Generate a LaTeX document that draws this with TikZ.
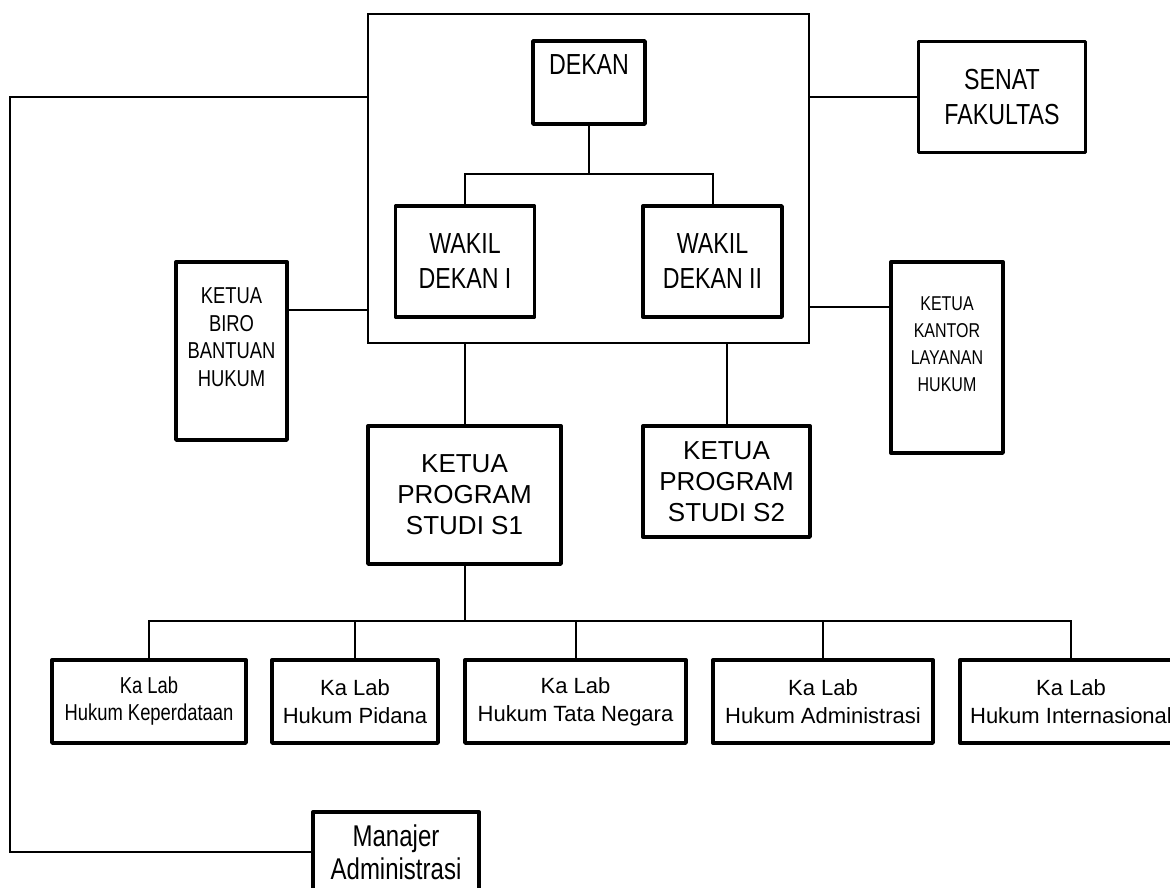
\documentclass[tikz,border=0pt]{standalone}
\usepackage{fontspec}
\setmainfont{Liberation Sans}
\newfontfamily\sempit[FakeStretch=0.8]{Liberation Sans}
\usetikzlibrary{positioning}

\begin{document}
\begin{tikzpicture}[x=1pt,y=-1pt,
  kotak/.style={draw,line width=3.4pt,line join=round,align=center,inner sep=0pt},
  garis/.style={line width=2pt},
  judul/.style={font={\sempit\fontsize{29}{35}\selectfont}},
  lab/.style={kotak,minimum height=83,font={\fontsize{22}{28}\selectfont}}]
  \useasboundingbox (0,0) rectangle (1170,887);
  \clip (0,0) rectangle (1170,887);

  % pimpinan fakultas
  \node[draw,line width=2pt,minimum width=441,minimum height=329] (pimpinan) at (588.5,178.5) {};
  \node[kotak,judul,minimum width=112,minimum height=83] (dekan) at (589,82.5) {DEKAN\\\mbox{}};
  \node[kotak,judul,minimum width=139,minimum height=111] (wakil1) at (465,261.5) {WAKIL\\DEKAN I};
  \node[kotak,judul,minimum width=139,minimum height=111] (wakil2) at (712.5,261.5) {WAKIL\\DEKAN II};

  \node[kotak,judul,minimum width=167,minimum height=111] (senat) at (1002,97) {SENAT\\FAKULTAS};
  \node[kotak,font={\sempit\fontsize{23}{27.5}\selectfont},minimum width=111,minimum height=178] (biro) at (231.5,351) {KETUA\\BIRO\\BANTUAN\\HUKUM\\\mbox{}};
  \node[kotak,font={\sempit\fontsize{20}{27}\selectfont},minimum width=112,minimum height=191] (kantor) at (947,357.5) {KETUA\\KANTOR\\LAYANAN\\HUKUM\\\mbox{}};

  % program studi
  \node[kotak,font={\fontsize{26}{31}\selectfont},minimum width=193,minimum height=138] (s1) at (464.5,495) {KETUA\\PROGRAM\\STUDI S1};
  \node[kotak,font={\fontsize{26}{31}\selectfont},minimum width=167,minimum height=111] (s2) at (726.5,481.5) {KETUA\\PROGRAM\\STUDI S2};

  % laboratorium
  \node[lab,minimum width=194,font={\sempit\fontsize{23}{27}\selectfont}] (lab1) at (149,701.5) {Ka Lab\\Hukum Keperdataan};
  \node[lab,minimum width=166] (lab2) at (355,701.5) {Ka Lab\\Hukum Pidana};
  \node[lab,minimum width=221] (lab3) at (575.5,701.5) {Ka Lab\\Hukum Tata Negara};
  \node[lab,minimum width=220] (lab4) at (823,701.5) {Ka Lab\\Hukum Administrasi};
  \node[lab,minimum width=222] (lab5) at (1071,701.5) {Ka Lab\\Hukum Internasional};

  \node[kotak,font={\sempit\fontsize{30}{33}\selectfont},minimum width=166,minimum height=80] (manajer) at (396,852) {Manajer\\Administrasi};

  % garis
  \draw[garis] (dekan.south) -- ++(0,48) -| (wakil1.north);
  \draw[garis] (dekan.south) -- ++(0,48) -| (wakil2.north);
  \draw[garis] (senat.west) -- (senat.west -| pimpinan.east);
  \draw[garis] ([yshift=-50pt]biro.north east) -- ([yshift=-50pt]biro.north east -| pimpinan.west);
  \draw[garis] ([yshift=-47pt]kantor.north west) -- ([yshift=-47pt]kantor.north west -| pimpinan.east);
  \draw[garis] (s1.north) -- (s1.north |- pimpinan.south);
  \draw[garis] (s2.north) -- (s2.north |- pimpinan.south);
  \foreach \i in {1,...,5}
    \draw[garis] (s1.south) -- ++(0,55) -| (lab\i.north);
  \coordinate (tepi) at (10,97);
  \draw[garis] (pimpinan.west |- tepi) -- (tepi) |- (manajer.west);
\end{tikzpicture}
\end{document}
